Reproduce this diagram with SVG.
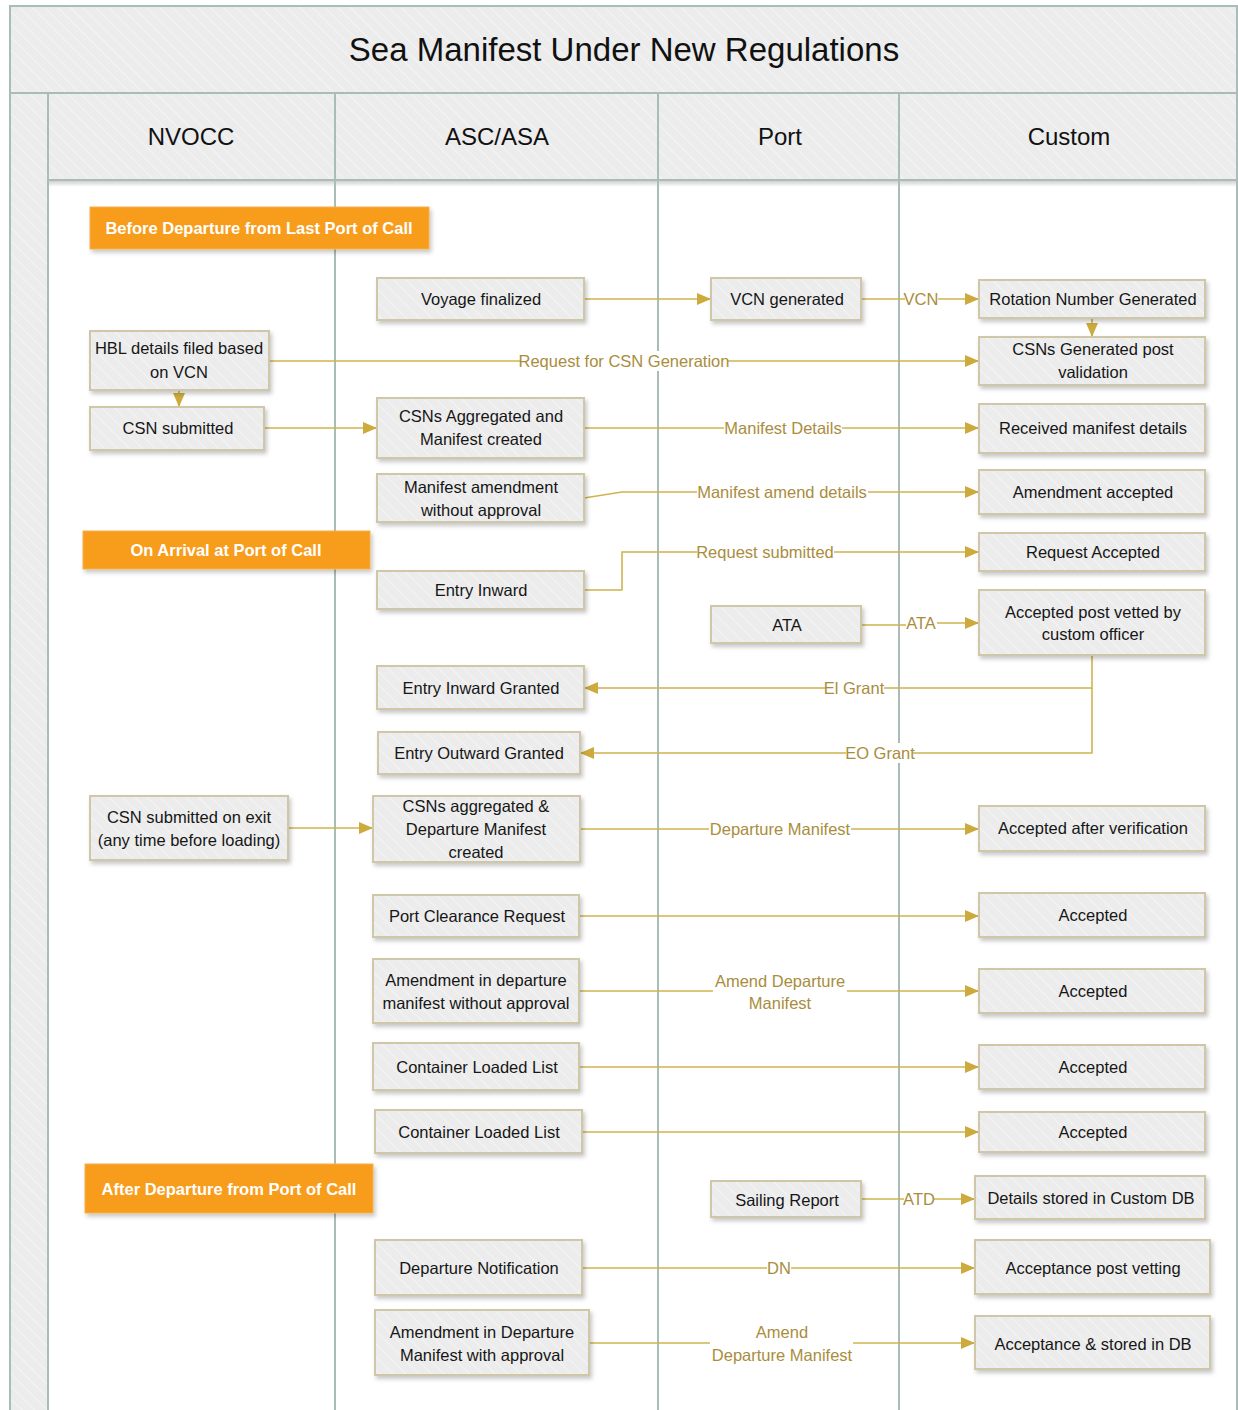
<svg xmlns="http://www.w3.org/2000/svg" width="1238" height="1410" viewBox="0 0 1238 1410">
<style>
.hd{fill:url(#hatch)}
.fr{fill:none;stroke:#a9bcb7;stroke-width:2}
.title{font-family:"Liberation Sans",Arial,sans-serif;font-size:33px;fill:#111;text-anchor:middle}
.lane{font-family:"Liberation Sans",Arial,sans-serif;font-size:24px;fill:#111;text-anchor:middle}
.node rect{fill:url(#hatch);stroke:#cfc7a7;stroke-width:2;filter:url(#sh)}
.node text{font-family:"Liberation Sans",Arial,sans-serif;font-size:16.5px;fill:#161616;text-anchor:middle}
.ban rect{fill:#f89c1f;stroke:#f5b04a;stroke-width:1;filter:url(#sh)}
.ban text{font-family:"Liberation Sans",Arial,sans-serif;font-size:16.5px;font-weight:bold;fill:#fff;text-anchor:middle}
.cn path{fill:none;stroke:#d0b34f;stroke-width:1.6}
.cn path.a{marker-end:url(#ar)}
.lbg{fill:#fff}
.lb{font-family:"Liberation Sans",Arial,sans-serif;font-size:16.5px;fill:#a98d3d;text-anchor:middle}
</style>
<defs>
<pattern id="hatch" width="9" height="9" patternUnits="userSpaceOnUse" patternTransform="rotate(45)">
<rect width="9" height="9" fill="#ececec"/>
<line x1="0" y1="0.5" x2="9" y2="0.5" stroke="#f4f4f4" stroke-width="1"/>
</pattern>
<filter id="sh" x="-10%" y="-20%" width="125%" height="160%">
<feDropShadow dx="2" dy="3" stdDeviation="2" flood-color="#000" flood-opacity="0.22"/>
</filter>
<linearGradient id="hs" x1="0" y1="0" x2="0" y2="1">
<stop offset="0" stop-color="#000" stop-opacity="0.18"/>
<stop offset="1" stop-color="#000" stop-opacity="0"/>
</linearGradient>
<marker id="ar" viewBox="0 0 14 12" refX="14" refY="6" markerWidth="14" markerHeight="12" markerUnits="userSpaceOnUse" orient="auto">
<path d="M0,0 L14,6 L0,12 z" fill="#cdaa3c"/>
</marker>
</defs>

<g id="pool">
<rect x="0" y="0" width="1238" height="1410" fill="#fff"/>
<rect class="hd" x="10" y="6" width="1227" height="87"/>
<rect class="hd" x="10" y="93" width="38" height="1317"/>
<rect class="hd" x="48" y="93" width="1189" height="87"/>
<rect x="48" y="181" width="1189" height="6" fill="url(#hs)"/>
<path class="fr" d="M10,1410 V6 H1237 V1410 M10,93 H1237 M48,180 H1237 M48,93 V1410 M335,93 V1410 M658,93 V1410 M899,93 V1410"/>
<text class="title" x="624" y="61">Sea Manifest Under New Regulations</text>
<text class="lane" x="191" y="145">NVOCC</text>
<text class="lane" x="497" y="145">ASC/ASA</text>
<text class="lane" x="780" y="145">Port</text>
<text class="lane" x="1069" y="145">Custom</text>
</g>

<g id="banners">
<g class="ban" id="b1"><rect x="90" y="207" width="339" height="42"/><text x="259" y="234">Before Departure from Last Port of Call</text></g>
<g class="ban" id="b2"><rect x="83" y="531" width="287" height="38"/><text x="226" y="556">On Arrival at Port of Call</text></g>
<g class="ban" id="b3"><rect x="85" y="1164" width="288" height="49"/><text x="229" y="1195">After Departure from Port of Call</text></g>
</g>

<g id="connectors" class="cn">
<path class="a" d="M584,299 H711"/>
<path class="a" d="M861,299 H979"/>
<path class="a" d="M1092,318 V337"/>
<path class="a" d="M269,361 H979"/>
<path class="a" d="M179,390 V407"/>
<path class="a" d="M264,428 H377"/>
<path class="a" d="M584,428 H979"/>
<path class="a" d="M584,498 L622,492 H979"/>
<path class="a" d="M584,590 H622 V552 H979"/>
<path class="a" d="M861,625 H905 L937,623 H979"/>
<path class="a" d="M1092,655 V688 H584"/>
<path class="a" d="M1092,688 V753 H580"/>
<path class="a" d="M288,828 H373"/>
<path class="a" d="M580,829 H979"/>
<path class="a" d="M579,916 H979"/>
<path class="a" d="M579,991 H979"/>
<path class="a" d="M579,1067 H979"/>
<path class="a" d="M582,1132 H979"/>
<path class="a" d="M861,1199 H975"/>
<path class="a" d="M582,1268 H975"/>
<path class="a" d="M589,1343 H975"/>
<g id="labels">
<rect class="lbg" x="905" y="289" width="33" height="20"/><text class="lb" x="921" y="305">VCN</text>
<rect class="lbg" x="521" y="351" width="207" height="20"/><text class="lb" x="624" y="367">Request for CSN Generation</text>
<rect class="lbg" x="724" y="418" width="118" height="20"/><text class="lb" x="783" y="434">Manifest Details</text>
<rect class="lbg" x="697" y="482" width="171" height="20"/><text class="lb" x="782" y="498">Manifest amend details</text>
<rect class="lbg" x="697" y="542" width="137" height="20"/><text class="lb" x="765" y="558">Request submitted</text>
<rect class="lbg" x="906" y="613" width="31" height="20"/><text class="lb" x="921" y="629">ATA</text>
<rect class="lbg" x="825" y="678" width="59" height="20"/><text class="lb" x="854" y="694">El Grant</text>
<rect class="lbg" x="846" y="743" width="67" height="20"/><text class="lb" x="880" y="759">EO Grant</text>
<rect class="lbg" x="709" y="819" width="142" height="20"/><text class="lb" x="780" y="835">Departure Manifest</text>
<rect class="lbg" x="713" y="970" width="134" height="24"/><rect class="lbg" x="744" y="990" width="72" height="24"/>
<text class="lb" x="780" y="987">Amend Departure</text><text class="lb" x="780" y="1009">Manifest</text>
<rect class="lbg" x="904" y="1189" width="30" height="20"/><text class="lb" x="919" y="1205">ATD</text>
<rect class="lbg" x="767" y="1258" width="24" height="20"/><text class="lb" x="779" y="1274">DN</text>
<rect class="lbg" x="710" y="1321" width="143" height="46"/>
<text class="lb" x="782" y="1338">Amend</text><text class="lb" x="782" y="1361">Departure Manifest</text>
</g>
</g>

<g id="nodes">
<g class="node" id="n-voyage"><rect x="377" y="278" width="207" height="42"/><text x="481" y="305">Voyage finalized</text></g>
<g class="node" id="n-csnagg"><rect x="377" y="398" width="207" height="60"/><text x="481" y="422">CSNs Aggregated and</text><text x="481" y="445">Manifest created</text></g>
<g class="node" id="n-mamend"><rect x="377" y="474" width="207" height="48"/><text x="481" y="493">Manifest amendment</text><text x="481" y="516">without approval</text></g>
<g class="node" id="n-entryin"><rect x="377" y="571" width="207" height="38"/><text x="481" y="596">Entry Inward</text></g>
<g class="node" id="n-eigrant"><rect x="377" y="666" width="207" height="43"/><text x="481" y="694">Entry Inward Granted</text></g>
<g class="node" id="n-eogrant"><rect x="378" y="732" width="202" height="42"/><text x="479" y="759">Entry Outward Granted</text></g>
<g class="node" id="n-depman"><rect x="373" y="796" width="207" height="66"/><text x="476" y="812">CSNs aggregated &amp;</text><text x="476" y="835">Departure Manifest</text><text x="476" y="858">created</text></g>
<g class="node" id="n-portclr"><rect x="373" y="895" width="206" height="42"/><text x="477" y="922">Port Clearance Request</text></g>
<g class="node" id="n-amenddep"><rect x="373" y="959" width="206" height="64"/><text x="476" y="986">Amendment in departure</text><text x="476" y="1009">manifest without approval</text></g>
<g class="node" id="n-cll1"><rect x="373" y="1043" width="206" height="47"/><text x="477" y="1073">Container Loaded List</text></g>
<g class="node" id="n-cll2"><rect x="375" y="1110" width="207" height="43"/><text x="479" y="1138">Container Loaded List</text></g>
<g class="node" id="n-depnot"><rect x="375" y="1240" width="207" height="55"/><text x="479" y="1274">Departure Notification</text></g>
<g class="node" id="n-amendappr"><rect x="375" y="1310" width="214" height="65"/><text x="482" y="1338">Amendment in Departure</text><text x="482" y="1361">Manifest with approval</text></g>

<g class="node" id="n-vcn"><rect x="711" y="278" width="150" height="42"/><text x="787" y="305">VCN generated</text></g>
<g class="node" id="n-ata"><rect x="711" y="606" width="150" height="37"/><text x="787" y="631">ATA</text></g>
<g class="node" id="n-sailing"><rect x="711" y="1181" width="150" height="36"/><text x="787" y="1206">Sailing Report</text></g>

<g class="node" id="n-rotation"><rect x="979" y="280" width="226" height="38"/><text x="1093" y="305">Rotation Number Generated</text></g>
<g class="node" id="n-csngen"><rect x="979" y="337" width="226" height="48"/><text x="1093" y="355">CSNs Generated post</text><text x="1093" y="378">validation</text></g>
<g class="node" id="n-recv"><rect x="979" y="404" width="226" height="49"/><text x="1093" y="434">Received manifest details</text></g>
<g class="node" id="n-amacc"><rect x="979" y="470" width="226" height="44"/><text x="1093" y="498">Amendment accepted</text></g>
<g class="node" id="n-reqacc"><rect x="979" y="533" width="226" height="38"/><text x="1093" y="558">Request Accepted</text></g>
<g class="node" id="n-vetted"><rect x="979" y="590" width="226" height="65"/><text x="1093" y="618">Accepted post vetted by</text><text x="1093" y="640">custom officer</text></g>
<g class="node" id="n-accver"><rect x="979" y="806" width="226" height="45"/><text x="1093" y="834">Accepted after verification</text></g>
<g class="node" id="n-acc1"><rect x="979" y="893" width="226" height="44"/><text x="1093" y="921">Accepted</text></g>
<g class="node" id="n-acc2"><rect x="979" y="969" width="226" height="44"/><text x="1093" y="997">Accepted</text></g>
<g class="node" id="n-acc3"><rect x="979" y="1045" width="226" height="44"/><text x="1093" y="1073">Accepted</text></g>
<g class="node" id="n-acc4"><rect x="979" y="1112" width="226" height="40"/><text x="1093" y="1138">Accepted</text></g>
<g class="node" id="n-stored"><rect x="975" y="1176" width="230" height="43"/><text x="1091" y="1204">Details stored in Custom DB</text></g>
<g class="node" id="n-accvet"><rect x="975" y="1240" width="235" height="54"/><text x="1093" y="1274">Acceptance post vetting</text></g>
<g class="node" id="n-accdb"><rect x="975" y="1316" width="235" height="53"/><text x="1093" y="1350">Acceptance &amp; stored in DB</text></g>

<g class="node" id="n-hbl"><rect x="90" y="331" width="179" height="59"/><text x="179" y="354">HBL details filed based</text><text x="179" y="378">on VCN</text></g>
<g class="node" id="n-csnsub"><rect x="90" y="407" width="174" height="43"/><text x="178" y="434">CSN submitted</text></g>
<g class="node" id="n-csnexit"><rect x="90" y="796" width="198" height="64"/><text x="189" y="823">CSN submitted on exit</text><text x="189" y="846">(any time before loading)</text></g>
</g>
</svg>
